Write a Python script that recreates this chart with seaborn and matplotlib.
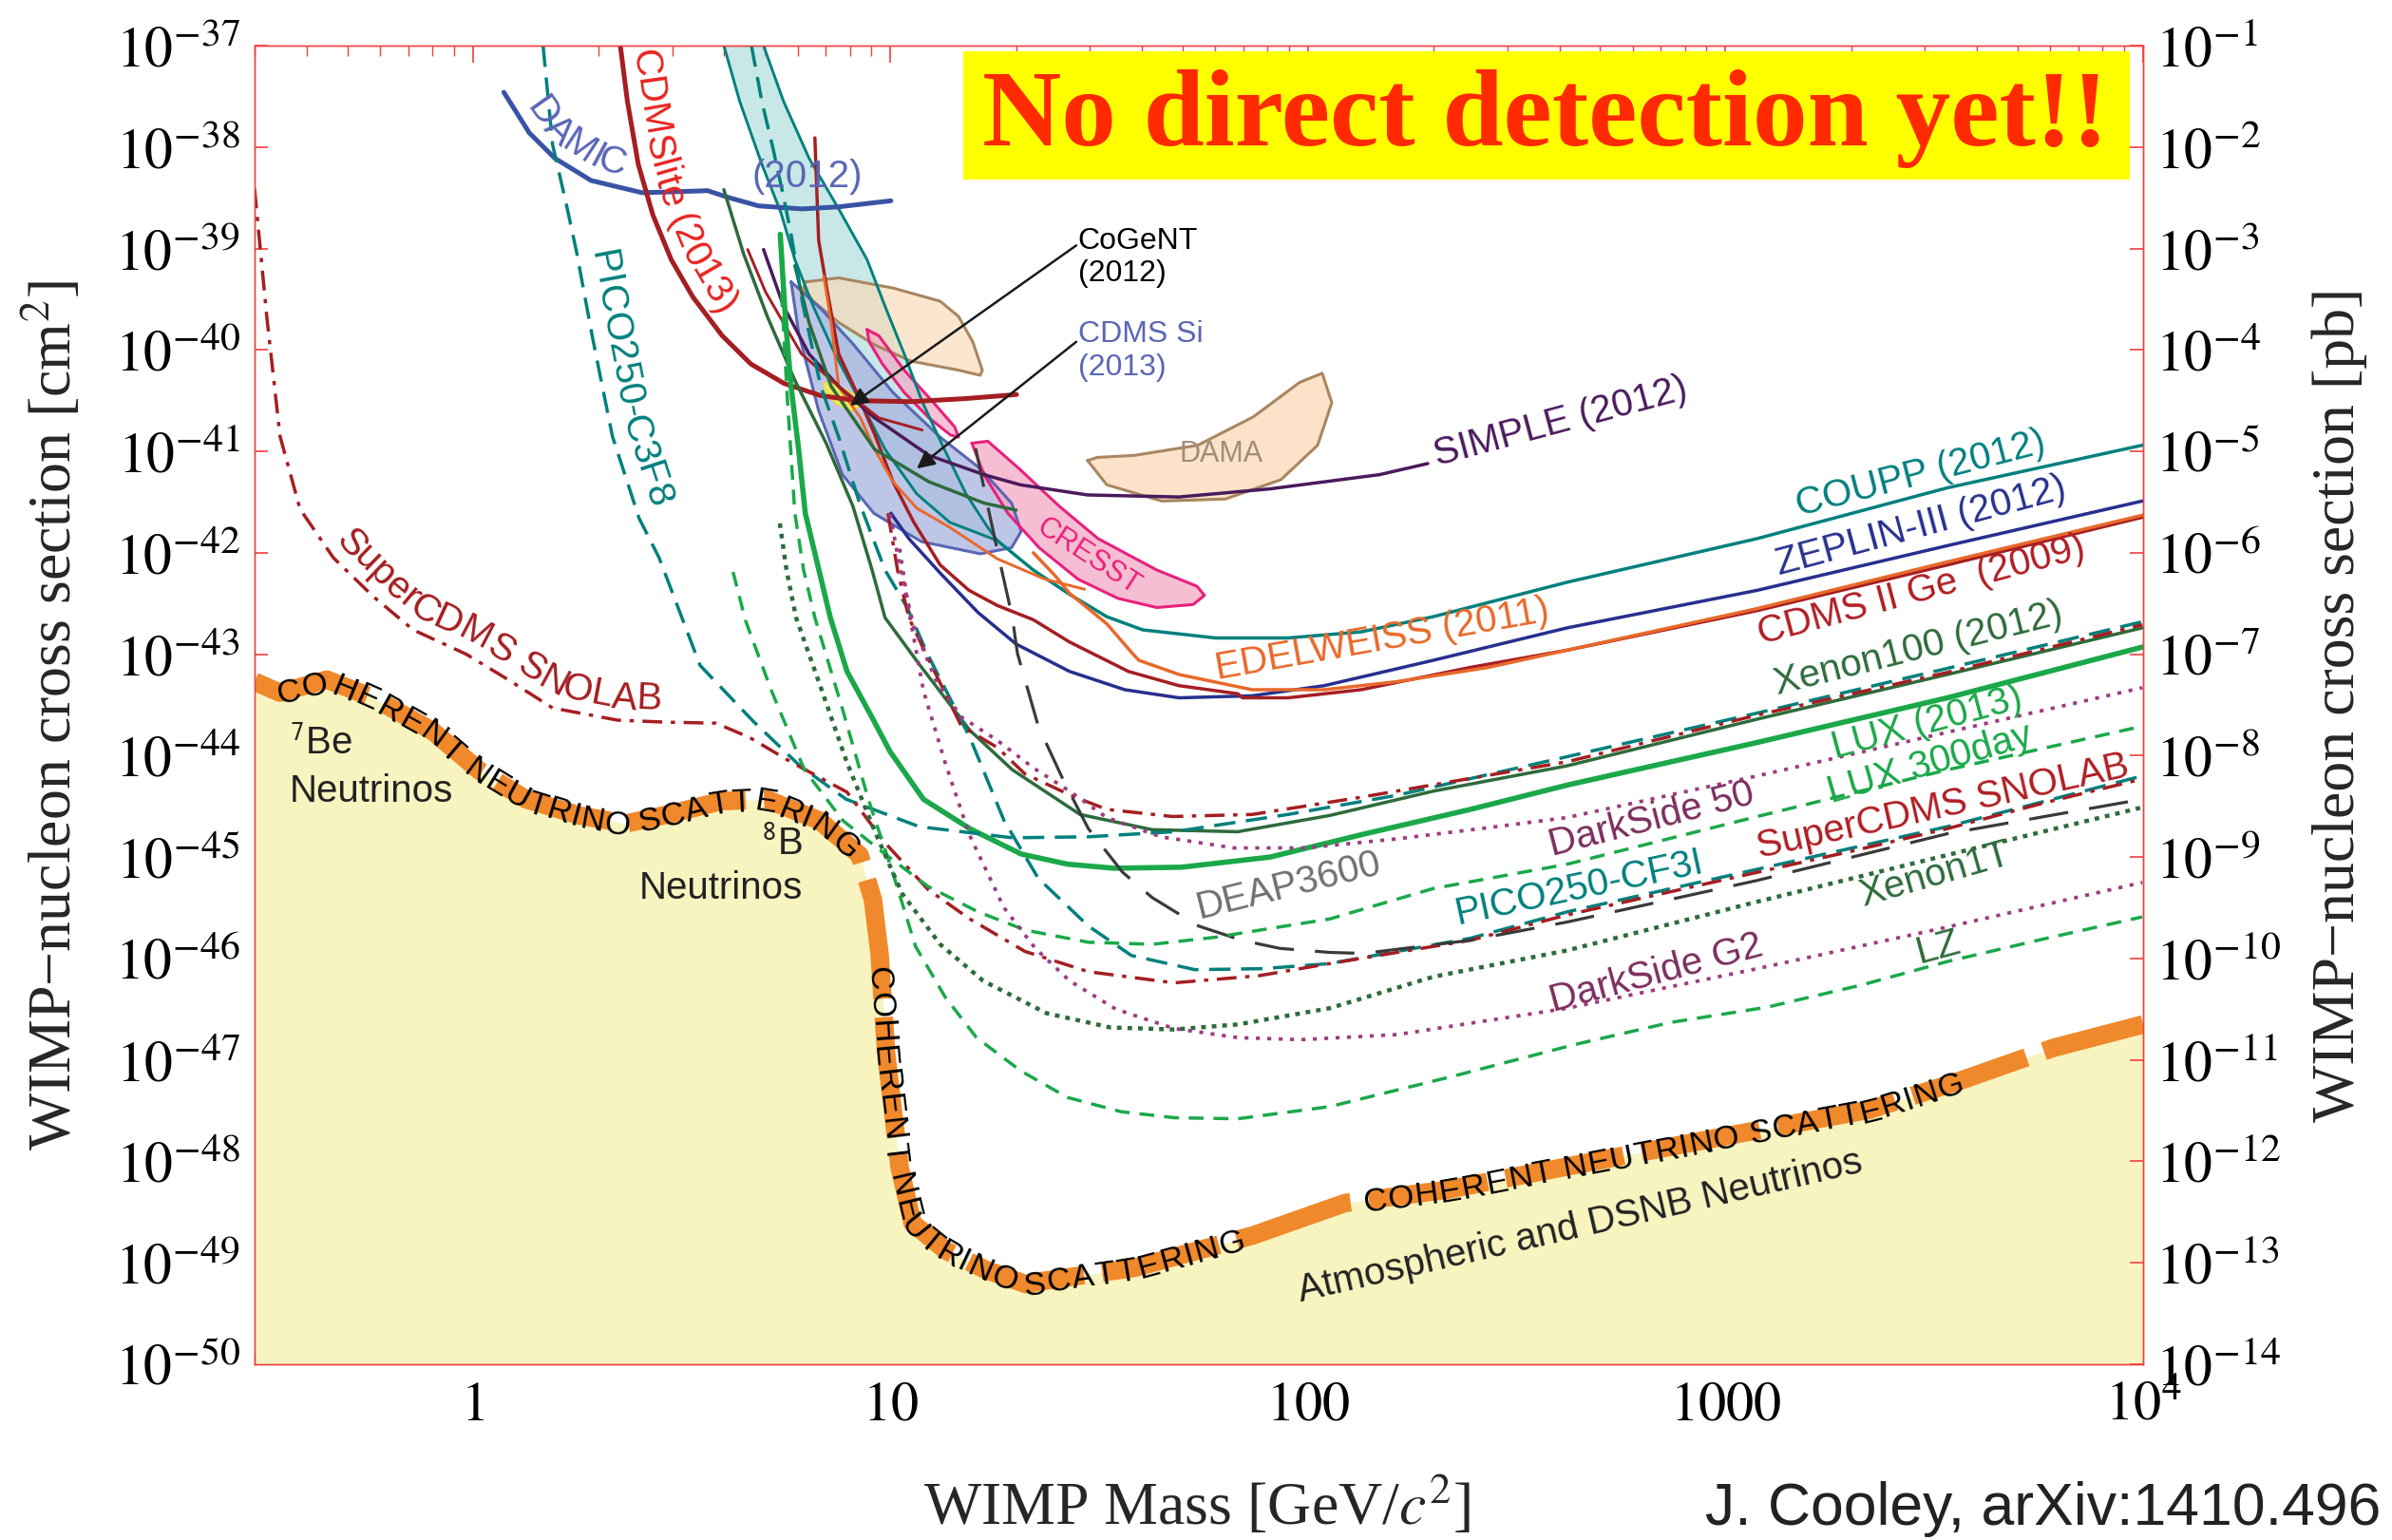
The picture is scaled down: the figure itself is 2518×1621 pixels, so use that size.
import numpy as np
import matplotlib
matplotlib.use("Agg")
import matplotlib.pyplot as plt
import seaborn as sns
from matplotlib.font_manager import FontProperties
from matplotlib.patches import Rectangle
from matplotlib.ticker import LogLocator, NullFormatter, NullLocator

sns.set_style("white")
plt.rcParams["font.family"] = ["Liberation Sans", "DejaVu Sans"]
plt.rcParams["mathtext.fontset"] = "stix"

# ---------------- data (log10 mass [GeV], log10 cross section [cm^2]) ----------------
nu_floor_lm = [-0.523, -0.462, -0.350, -0.239, -0.096, 0.016, 0.127, 0.255, 0.366, 0.478, 0.592, 0.703,
               0.830, 0.926, 0.958, 0.974, 0.990, 1.022, 1.053, 1.133, 1.229, 1.324, 1.363, 1.584, 1.868,
               2.089, 2.332, 2.685, 3.015, 3.345, 3.565, 3.786, 4.0]
nu_floor_ls = [-43.27, -43.38, -43.25, -43.43, -43.76, -44.15, -44.43, -44.59, -44.67, -44.57, -44.45, -44.43,
               -44.64, -44.98, -45.42, -45.96, -46.95, -48.06, -48.61, -48.88, -49.07, -49.21, -49.18, -49.05, -48.73,
               -48.41, -48.28, -48.00, -47.74, -47.49, -47.20, -46.88, -46.65]

damic_lm = [0.074, 0.135, 0.196, 0.283, 0.405, 0.492, 0.562, 0.614, 0.684, 0.788, 0.875, 1.001]
damic_ls = [-37.46, -37.86, -38.11, -38.33, -38.45, -38.44, -38.43, -38.50, -38.58, -38.61, -38.59, -38.53]

cdmslite_lm = [0.353, 0.370, 0.396, 0.431, 0.475, 0.527, 0.597, 0.666, 0.745, 0.832, 0.919, 1.049, 1.180, 1.302]
cdmslite_ls = [-37.00, -37.55, -38.17, -38.67, -39.11, -39.48, -39.86, -40.14, -40.33, -40.45, -40.50, -40.51, -40.48, -40.44]

pico_c3f8_lm = [0.168, 0.191, 0.223, 0.248, 0.287, 0.334, 0.398, 0.446, 0.544, 0.671, 0.783, 0.894, 1.069, 1.292,
                1.474, 1.679, 1.952, 2.214, 2.621, 3.076, 3.531, 3.998]
pico_c3f8_ls = [-37.00, -37.98, -38.55, -39.03, -39.89, -40.85, -41.66, -42.05, -43.11, -43.66, -44.10, -44.43, -44.70,
                -44.81, -44.80, -44.75, -44.58, -44.39, -44.01, -43.58, -43.14, -42.68]

xenon100_lm = [0.601, 0.648, 0.705, 0.771, 0.846, 0.910, 0.956, 0.987, 1.069, 1.190, 1.292, 1.454, 1.627, 1.832,
               2.052, 2.300, 2.621, 3.076, 3.531, 3.998]
xenon100_ls = [-38.42, -39.05, -39.67, -40.30, -40.92, -41.54, -42.17, -42.64, -43.10, -43.75, -44.14, -44.58, -44.73,
               -44.75, -44.59, -44.35, -44.10, -43.64, -43.20, -42.74]

snolab_lm = [-0.523, -0.494, -0.462, -0.414, -0.334, -0.239, -0.143, -0.016, 0.080, 0.191, 0.346, 0.462, 0.582,
             0.662, 0.765, 0.896, 0.987, 1.090, 1.190, 1.322, 1.474, 1.679, 1.882, 2.052, 2.389, 2.621, 3.076,
             3.304, 3.531, 3.759, 3.998]
snolab_ls = [-38.41, -39.66, -40.85, -41.57, -42.05, -42.43, -42.76, -43.00, -43.24, -43.53, -43.65, -43.67, -43.68,
             -43.82, -44.07, -44.36, -44.86, -45.32, -45.61, -45.93, -46.13, -46.24, -46.17, -46.05, -45.82, -45.57,
             -45.15, -44.94, -44.72, -44.47, -44.23]

snolab_b_lm = [0.994, 1.017, 1.044, 1.097, 1.170, 1.256, 1.322, 1.431, 1.518, 1.675, 1.866, 2.127, 2.621, 3.076, 3.531, 3.998]
snolab_b_ls = [-41.61, -42.17, -42.64, -43.10, -43.71, -43.92, -44.18, -44.39, -44.53, -44.60, -44.58, -44.41, -44.06,
               -43.60, -43.18, -42.71]

pico_cf3i_lm = [0.667, 0.692, 0.719, 0.744, 0.762, 0.790, 0.833, 0.876, 0.926, 0.987, 1.040, 1.090, 1.142, 1.190,
                1.272, 1.354, 1.474, 1.577, 1.729, 1.893, 2.052, 2.389, 2.621, 3.076, 3.531, 3.998]
pico_cf3i_ls = [-37.00, -37.55, -38.02, -38.49, -38.86, -39.55, -40.36, -40.86, -41.51, -42.17, -42.54, -43.01, -43.43,
                -43.82, -44.64, -45.21, -45.68, -45.97, -46.11, -46.10, -46.05, -45.80, -45.54, -45.12, -44.70, -44.20]

deap_lm = [1.204, 1.233, 1.261, 1.292, 1.304, 1.354, 1.415, 1.474, 1.556, 1.627, 1.738, 1.841, 1.932, 2.052, 2.133,
           2.389, 2.621, 3.076, 3.531, 3.998]
deap_ls = [-40.97, -41.54, -42.07, -42.64, -42.99, -43.71, -44.25, -44.72, -45.15, -45.40, -45.68, -45.82, -45.90,
           -45.94, -45.95, -45.82, -45.64, -45.23, -44.77, -44.43]

lux13_lm = [0.736, 0.749, 0.762, 0.780, 0.796, 0.856, 0.896, 0.958, 0.999, 1.079, 1.190, 1.313, 1.424, 1.536, 1.697,
            1.909, 2.127, 2.389, 2.621, 3.076, 3.531, 3.998]
lux13_ls = [-38.86, -39.73, -40.36, -40.98, -41.61, -42.64, -43.17, -43.64, -43.96, -44.43, -44.72, -44.97, -45.07,
            -45.11, -45.10, -45.00, -44.78, -44.53, -44.29, -43.87, -43.43, -42.93]

lux300_lm = [0.623, 0.653, 0.714, 0.794, 0.886, 0.987, 1.090, 1.210, 1.323, 1.474, 1.627, 1.779, 2.052, 2.300, 2.621,
             3.076, 3.531, 3.998]
lux300_ls = [-42.19, -42.67, -43.35, -44.14, -44.64, -44.97, -45.29, -45.54, -45.72, -45.84, -45.86, -45.79, -45.61,
             -45.31, -45.07, -44.60, -44.14, -43.71]

lz_lm = [0.739, 0.753, 0.771, 0.792, 0.819, 0.885, 0.947, 1.006, 1.060, 1.131, 1.206, 1.313, 1.424, 1.552, 1.681,
         1.832, 2.052, 2.348, 2.637, 2.869, 3.099, 3.327, 3.531, 3.759, 3.998]
lz_ls = [-39.43, -40.48, -41.61, -42.17, -42.64, -43.54, -44.43, -45.16, -45.88, -46.38, -46.78, -47.11, -47.37,
         -47.51, -47.57, -47.58, -47.46, -47.16, -46.85, -46.63, -46.48, -46.26, -46.03, -45.81, -45.59]

xenon1t_lm = [0.735, 0.751, 0.774, 0.835, 0.896, 0.967, 1.028, 1.119, 1.222, 1.374, 1.527, 1.679, 1.832, 2.052,
              2.300, 2.621, 3.076, 3.531, 3.998]
xenon1t_ls = [-41.71, -42.17, -42.64, -43.35, -44.07, -44.79, -45.36, -45.86, -46.22, -46.54, -46.68, -46.70, -46.65,
              -46.49, -46.18, -45.92, -45.44, -44.98, -44.51]

ds50_lm = [0.999, 1.024, 1.056, 1.108, 1.170, 1.256, 1.342, 1.429, 1.518, 1.647, 1.823, 1.995, 2.214, 2.432, 2.621,
           3.076, 3.531, 3.998]
ds50_ls = [-41.62, -42.17, -42.73, -43.25, -43.62, -43.85, -44.12, -44.35, -44.61, -44.80, -44.91, -44.91, -44.82,
           -44.71, -44.61, -44.20, -43.77, -43.33]

dsg2_lm = [1.022, 1.047, 1.079, 1.131, 1.190, 1.272, 1.347, 1.429, 1.540, 1.679, 1.832, 1.984, 2.214, 2.621, 3.076,
           3.531, 3.998]
dsg2_ls = [-41.96, -42.64, -43.36, -44.07, -44.79, -45.50, -45.90, -46.22, -46.50, -46.69, -46.78, -46.80, -46.75,
           -46.49, -46.10, -45.69, -45.25]

band_left_lm = [0.601, 0.639, 0.692, 0.737, 0.771, 0.815, 0.867, 0.928, 0.987, 1.063, 1.142, 1.256]
band_left_ls = [-37.00, -37.55, -38.17, -38.64, -39.11, -39.57, -40.04, -40.51, -40.98, -41.42, -41.70, -41.88]
band_right_lm = [0.696, 0.744, 0.805, 0.876, 0.944, 0.987, 1.033, 1.076, 1.129, 1.181, 1.233, 1.256]
band_right_ls = [-37.00, -37.55, -38.11, -38.61, -39.11, -39.57, -40.04, -40.51, -40.98, -41.42, -41.75, -41.88]

coupp_lm = [1.256, 1.342, 1.429, 1.518, 1.604, 1.779, 1.952, 2.127, 2.300, 2.621, 3.076, 3.531, 3.998]
coupp_ls = [-41.88, -42.17, -42.41, -42.63, -42.76, -42.84, -42.84, -42.78, -42.63, -42.29, -41.86, -41.36, -40.94]

zeplin_lm = [1.001, 1.044, 1.119, 1.210, 1.301, 1.429, 1.561, 1.691, 1.866, 2.039, 2.300, 2.621, 3.076, 3.531, 3.998]
zeplin_ls = [-41.61, -41.86, -42.20, -42.59, -42.90, -43.17, -43.35, -43.43, -43.41, -43.31, -43.06, -42.74, -42.37,
             -41.93, -41.49]

cdmsge_lm = [0.819, 0.828, 0.849, 0.876, 0.919, 0.962, 1.006, 1.056, 1.119, 1.188, 1.256, 1.342, 1.429, 1.570, 1.691,
             1.832, 1.843, 1.952, 2.127, 2.389, 2.621, 3.076, 3.531, 3.998]
cdmsge_ls = [-37.91, -38.92, -39.43, -40.04, -40.42, -40.83, -41.30, -41.70, -42.12, -42.37, -42.52, -42.66, -42.88,
             -43.17, -43.31, -43.39, -43.43, -43.43, -43.35, -43.13, -42.96, -42.57, -42.12, -41.65]

edelweiss_lm = [1.342, 1.393, 1.429, 1.518, 1.579, 1.595, 1.691, 1.866, 2.039, 2.214, 2.432, 2.621, 3.076, 3.531, 3.998]
edelweiss_ls = [-42.00, -42.22, -42.40, -42.70, -42.99, -43.06, -43.20, -43.35, -43.35, -43.27, -43.13, -42.96, -42.55,
                -42.09, -41.63]

orange_lm = [0.840, 0.858, 0.876, 0.928, 0.962, 1.006, 1.063, 1.142, 1.256, 1.370, 1.465]
orange_ls = [-39.27, -39.73, -40.36, -40.67, -40.98, -41.30, -41.56, -41.75, -42.06, -42.26, -42.36]

simple_lm = [0.696, 0.744, 0.805, 0.876, 0.962, 1.092, 1.224, 1.311, 1.472, 1.691, 1.909, 2.171, 2.287]
simple_ls = [-39.01, -39.57, -40.04, -40.36, -40.67, -41.04, -41.23, -41.33, -41.43, -41.45, -41.37, -41.23, -41.12]

redthin_lm = [0.658, 0.701, 0.787, 0.876, 0.972, 1.076]
redthin_ls = [-39.01, -39.43, -40.04, -40.36, -40.67, -40.79]

greenshort_lm = [0.771, 0.805, 0.858, 0.962, 1.092, 1.224, 1.301]
greenshort_ls = [-39.17, -39.73, -40.36, -40.98, -41.30, -41.51, -41.58]

cdmssi_lm = [0.762, 0.780, 0.828, 0.885, 0.960, 1.074, 1.215, 1.290, 1.313, 1.290, 1.215, 1.119, 1.006, 0.912, 0.837, 0.790]
cdmssi_ls = [-39.33, -39.83, -40.60, -41.23, -41.61, -41.89, -42.01, -41.95, -41.79, -41.51, -41.17, -40.86, -40.42,
             -39.95, -39.61, -39.43]

dama1_lm = [0.796, 0.876, 1.006, 1.119, 1.163, 1.197, 1.220, 1.215, 1.163, 1.049, 0.962, 0.876, 0.815, 0.792]
dama1_ls = [-39.33, -39.29, -39.39, -39.52, -39.67, -39.92, -40.20, -40.25, -40.20, -40.11, -39.95, -39.73, -39.52, -39.39]
dama2_lm = [1.472, 1.518, 1.650, 1.802, 1.935, 2.023, 2.057, 2.034, 1.980, 1.869, 1.736, 1.584, 1.495]
dama2_ls = [-41.09, -41.33, -41.49, -41.47, -41.28, -40.94, -40.52, -40.23, -40.32, -40.66, -40.94, -41.04, -41.06]

cresst1_lm = [0.944, 0.972, 1.033, 1.101, 1.154, 1.163, 1.144, 1.092, 1.033, 0.981, 0.949]
cresst1_ls = [-39.80, -39.86, -40.20, -40.51, -40.76, -40.86, -40.84, -40.67, -40.42, -40.14, -39.92]
cresst2_lm = [1.195, 1.233, 1.308, 1.404, 1.497, 1.638, 1.734, 1.752, 1.725, 1.638, 1.545, 1.449, 1.356, 1.281, 1.224]
cresst2_ls = [-40.92, -40.90, -41.17, -41.54, -41.86, -42.17, -42.33, -42.42, -42.51, -42.54, -42.45, -42.26, -41.95,
              -41.61, -41.23]

cogent_lm = [0.840, 0.869, 0.915, 0.928, 0.903, 0.869, 0.842]
cogent_ls = [-40.32, -40.34, -40.44, -40.56, -40.60, -40.53, -40.41]

y_left_exp = list(range(37, 51))
y_right_exp = list(range(1, 15))
x_major = [1, 10, 100, 1000, 10000]
x_major_labels = [r"$1$", r"$10$", r"$100$", r"$1000$", r"$10^4$"]

# ---------------- figure ----------------
DPI = 100
fig = plt.figure(figsize=(25.18, 16.21), dpi=DPI)
ax = fig.add_axes([0.10643, 0.11413, 0.78952, 0.85626])
ax.set_xscale("log")
ax.set_yscale("log")
XL = (10 ** -0.5229, 1e4)
YL = (1e-50, 1e-37)
ax.set_xlim(*XL)
ax.set_ylim(*YL)


def P(v):
    return 10.0 ** np.asarray(v, dtype=float)


def curve(lm, ls, color, lw, style="-", z=4, **kw):
    sns.lineplot(x=P(lm), y=P(ls), ax=ax, color=color, linewidth=lw, linestyle=style,
                 sort=False, estimator=None, zorder=z, legend=False, **kw)


def region(lm, ls, face, edge, alpha=0.7, z=2.0, lw=2.2):
    ax.fill(P(lm), P(ls), facecolor=face, edgecolor="none", alpha=alpha, zorder=z)
    curve(list(lm) + [lm[0]], list(ls) + [ls[0]], edge, lw, z=z + 0.05)


RED = "#A51E22"
TEAL = "#00807D"
DKGREEN = "#2E6B3C"
GREEN = "#1BA84A"
PURPLE = "#9C3C80"
THIN = 2.1
MID = 2.5
THICK = 3.6

# neutrino floor
ax.fill_between(P(nu_floor_lm), P(nu_floor_ls), 1e-50, color="#F8F4C0", lw=0, zorder=1)
curve(nu_floor_lm, nu_floor_ls, "#F0892B", 14, style=(0, (6.5, 1.0)), z=2.5, dash_capstyle="butt")

# regions
ax.fill(np.concatenate([P(band_left_lm), P(band_right_lm)[::-1]]),
        np.concatenate([P(band_left_ls), P(band_right_ls)[::-1]]),
        facecolor="#A9DCD9", alpha=0.65, edgecolor="none", zorder=1.8)
region(dama1_lm, dama1_ls, "#FBD9B6", "#A98661", alpha=0.65)
region(dama2_lm, dama2_ls, "#FBD9B6", "#A98661", alpha=0.75)
region(cdmssi_lm, cdmssi_ls, "#A9B3E0", "#5A66B5", alpha=0.75)
region(cresst1_lm, cresst1_ls, "#F4A9C4", "#E8207D", alpha=0.7)
region(cresst2_lm, cresst2_ls, "#F4A9C4", "#E8207D", alpha=0.75)
region(cogent_lm, cogent_ls, "#F3EC4E", "#E8D84A", alpha=0.9, lw=1.0)

# limit curves
curve(band_left_lm, band_left_ls, TEAL, THIN)
curve(band_right_lm, band_right_ls, TEAL, THIN)
curve(coupp_lm, coupp_ls, TEAL, MID)
curve(zeplin_lm, zeplin_ls, "#27308E", MID)
curve(cdmsge_lm, cdmsge_ls, RED, MID)
curve(edelweiss_lm, edelweiss_ls, "#E8692A", MID)
curve(orange_lm, orange_ls, "#E8692A", THIN)
curve(simple_lm, simple_ls, "#4A1A5C", MID)
curve(redthin_lm, redthin_ls, RED, THIN)
curve(greenshort_lm, greenshort_ls, DKGREEN, MID)
curve(damic_lm, damic_ls, "#3953A4", THICK)
curve(cdmslite_lm, cdmslite_ls, RED, THICK)
curve(xenon100_lm, xenon100_ls, DKGREEN, MID)
curve(lux13_lm, lux13_ls, GREEN, 4.0)
curve(pico_c3f8_lm, pico_c3f8_ls, TEAL, MID, style=(0, (6.5, 3.2)))
curve(pico_cf3i_lm, pico_cf3i_ls, TEAL, MID, style=(0, (6.5, 3.2)))
curve(snolab_lm, snolab_ls, RED, MID, style=(0, (6, 2.6, 1.3, 2.6)))
curve(snolab_b_lm, snolab_b_ls, RED, MID, style=(0, (6, 2.6, 1.3, 2.6)))
curve(deap_lm, deap_ls, "#3A3A3A", 2.3, style=(0, (13, 7)))
curve(lux300_lm, lux300_ls, GREEN, MID, style=(0, (4.5, 3.0)))
curve(lz_lm, lz_ls, GREEN, MID, style=(0, (4.5, 3.0)))
curve(xenon1t_lm, xenon1t_ls, DKGREEN, 3.2, style=(0, (1.1, 1.4)))
curve(ds50_lm, ds50_ls, PURPLE, 2.7, style=(0, (1.1, 2.1)))
curve(dsg2_lm, dsg2_ls, PURPLE, 2.7, style=(0, (1.1, 2.1)))

ax.set_xlim(*XL)
ax.set_ylim(*YL)
ax.set_xlabel("")
ax.set_ylabel("")


def text_along(lm, ls, text, start, end=None, offset=0.0, size=29, color="black", z=6, spacing=1.0):
    em = size * DPI / 72.0
    pts = ax.transData.transform(np.column_stack([P(lm), P(ls)]))
    seg = np.hypot(*np.diff(pts, axis=0).T)
    s = np.concatenate([[0.0], np.cumsum(seg)])
    fs = np.linspace(0, s[-1], max(int(s[-1] / 1.5), 10))
    px = np.interp(fs, s, pts[:, 0])
    py = np.interp(fs, s, pts[:, 1])
    dx = np.gradient(px)
    dy = np.gradient(py)
    ker = np.ones(15) / 15.0
    dxs = np.convolve(dx, ker, mode="same")
    dys = np.convolve(dy, ker, mode="same")
    nn = np.hypot(dxs, dys)
    nn[nn == 0] = 1
    base = offset - 0.36 * em
    ox = px - dys / nn * base
    oy = py + dxs / nn * base
    so = np.concatenate([[0.0], np.cumsum(np.hypot(np.diff(ox), np.diff(oy)))])

    def proj(p):
        d = ax.transData.transform((10 ** p[0], 10 ** p[1]))
        return so[np.argmin((px - d[0]) ** 2 + (py - d[1]) ** 2)]

    fp = FontProperties(family=plt.rcParams["font.family"], size=size)
    rend = fig.canvas.get_renderer()
    wHH = rend.get_text_width_height_descent("HH", fp, ismath=False)[0]
    adv = np.array([rend.get_text_width_height_descent("H" + c + "H", fp, ismath=False)[0] - wHH for c in text])
    s0 = proj(start)
    scale = spacing if end is None else (proj(end) - s0) / adv.sum()
    inv = ax.transData.inverted()
    cur = s0
    for c, a in zip(text, adv):
        mid = cur + scale * a / 2
        cur += scale * a
        if c == " ":
            continue
        h = max(scale * a * 0.6, 8)
        x, y = np.interp(mid, so, ox), np.interp(mid, so, oy)
        x1, y1 = np.interp(mid - h, so, ox), np.interp(mid - h, so, oy)
        x2, y2 = np.interp(mid + h, so, ox), np.interp(mid + h, so, oy)
        ang = np.degrees(np.arctan2(y2 - y1, x2 - x1))
        xd, yd = inv.transform((x, y))
        ax.text(xd, yd, c, rotation=ang, rotation_mode="anchor", ha="center", va="baseline",
                fontsize=size, color=color, zorder=z)


# neutrino-floor band text
text_along(nu_floor_lm, nu_floor_ls, "COHERENT NEUTRINO SCATTERING", (-0.462, -43.38), (0.926, -44.98), size=25, z=3)
text_along(nu_floor_lm, nu_floor_ls, "COHERENT NEUTRINO SCATTERING", (0.976, -46.07), (1.848, -48.73), size=25, z=3)
text_along(nu_floor_lm, nu_floor_ls, "COHERENT NEUTRINO SCATTERING", (2.133, -48.42), (3.565, -47.20), size=25, z=3)

# curved labels
LFS = 29
text_along(damic_lm, damic_ls, "DAMIC", (0.107, -37.65), offset=27, size=LFS, color="#5A66B5")
text_along(cdmslite_lm, cdmslite_ls, "CDMSlite (2013)", (0.355, -37.07), offset=27, size=LFS, color="#E8231F")
text_along(pico_c3f8_lm, pico_c3f8_ls, "PICO250-C3F8", (0.25, -39.07), offset=29, size=LFS, color=TEAL)
text_along(snolab_lm, snolab_ls, "SuperCDMS SNOLAB", (-0.36, -41.95), offset=27, size=LFS, color=RED)


def lab(lm, ls, s, color, rot=0.0, size=LFS, **kw):
    ax.text(10 ** lm, 10 ** ls, s, color=color, rotation=rot, rotation_mode="anchor",
            ha=kw.pop("ha", "center"), va=kw.pop("va", "center"), fontsize=size, zorder=6, **kw)


lab(0.801, -38.29, "(2012)", "#5A66B5")
lab(3.467, -41.22, "COUPP (2012)", TEAL, 14.5)
lab(3.467, -41.74, "ZEPLIN-III (2012)", "#27308E", 15)
lab(3.468, -42.37, "CDMS II Ge  (2009)", "#B01E23", 15)
lab(3.463, -42.95, "Xenon100 (2012)", DKGREEN, 14)
lab(3.482, -43.68, "LUX (2013)", GREEN, 15)
lab(3.490, -44.08, "LUX 300day", GREEN, 16)
lab(3.520, -44.50, "SuperCDMS SNOLAB", "#B01E23", 12.5)
lab(3.501, -45.18, "Xenon1T", DKGREEN, 16)
lab(3.509, -45.89, "LZ", DKGREEN, 15)
lab(2.823, -44.63, "DarkSide 50", "#7B2E5E", 14.5)
lab(2.835, -46.15, "DarkSide G2", "#7B2E5E", 15)
lab(2.651, -45.305, "PICO250-CF3I", TEAL, 12)
lab(1.955, -45.28, "DEAP3600", "#707070", 14)
lab(2.179, -42.86, "EDELWEISS (2011)", "#E8692A", 10)
lab(2.605, -40.71, "SIMPLE (2012)", "#4A1A5C", 15)
lab(1.792, -41.03, "DAMA", "#A08C78", 0, size=22)
lab(1.474, -42.04, "CRESST", "#E8207D", -33, size=22)
lab(1.449, -39.09, "CoGeNT\n(2012)", "black", 0, size=23, ha="left", linespacing=1.2)
lab(1.449, -40.01, "CDMS Si\n(2013)", "#5A66B5", 0, size=23, ha="left", linespacing=1.2)
lab(-0.439, -43.88, r"$^{\mathsf{7}}$Be", "#222222", 0, size=29, ha="left")
lab(-0.439, -44.35, "Neutrinos", "#222222", 0, size=29, ha="left")
lab(0.790, -44.87, r"$^{\mathsf{8}}$B", "#222222", 0, size=29, ha="right")
lab(0.790, -45.31, "Neutrinos", "#222222", 0, size=29, ha="right")
lab(2.651, -48.64, "Atmospheric and DSNB Neutrinos", "#222222", 13, size=29)

arrow_kw = dict(arrowstyle="-|>", color="#1a1a1a", lw=1.8, mutation_scale=28, shrinkA=0, shrinkB=0)
ax.annotate("", xy=(10 ** 0.903, 10 ** -40.55), xytext=(10 ** 1.445, 10 ** -38.97), arrowprops=arrow_kw, zorder=7)
ax.annotate("", xy=(10 ** 1.063, 10 ** -41.17), xytext=(10 ** 1.445, 10 ** -39.92), arrowprops=arrow_kw, zorder=7)

# headline box
ax.add_patch(Rectangle((0.3755, 0.8986), 0.6175, 0.0974, transform=ax.transAxes,
                       facecolor="#FFFF00", edgecolor="none", zorder=8))
ax.text(0.6835, 0.9244, "No direct detection yet!!", transform=ax.transAxes, ha="center", va="baseline",
        fontsize=83, fontweight="bold", family=["Liberation Serif", "DejaVu Serif"], color="#FF2A00", zorder=9)

# axes styling
SP = "#F04040"
for sp in ax.spines.values():
    sp.set_color(SP)
    sp.set_linewidth(1.0)
ax.set_xticks(x_major)
ax.set_xticklabels(x_major_labels)
ax.xaxis.set_minor_locator(LogLocator(base=10, subs=np.arange(2, 10)))
ax.xaxis.set_minor_formatter(NullFormatter())
ax.tick_params(axis="x", which="major", direction="in", top=True, bottom=True, length=13, width=1.2,
               color=SP, labelsize=42, pad=12, labelcolor="black")
ax.tick_params(axis="x", which="minor", direction="in", top=True, bottom=True, length=8, width=1.0, color=SP)
ax.set_yticks([10.0 ** -k for k in y_left_exp])
ax.set_yticklabels([r"$10^{-%d}$" % k for k in y_left_exp])
ax.yaxis.set_minor_locator(NullLocator())
ax.tick_params(axis="y", which="major", direction="in", left=True, right=False, length=10, width=1.2,
               color=SP, labelsize=43, pad=11, labelcolor="black")

ax2 = ax.twinx()
ax2.set_yscale("log")
ax2.set_ylim(1e-14, 1e-1)
ax2.set_yticks([10.0 ** -k for k in y_right_exp])
ax2.set_yticklabels([r"$10^{-%d}$" % k for k in y_right_exp])
ax2.yaxis.set_minor_locator(NullLocator())
ax2.tick_params(axis="y", which="major", direction="in", right=True, left=False, length=10, width=1.2,
                color=SP, labelsize=43, pad=9, labelcolor="black")
for sp in ax2.spines.values():
    sp.set_color(SP)
    sp.set_linewidth(1.0)
ax2.set_xlim(*XL)

serif = ["Liberation Serif", "DejaVu Serif"]
fig.text(0.0222, 0.5355, "WIMP\u2212nucleon cross section [cm$^2$]", rotation=90, ha="center", va="center",
         fontsize=46, family=serif)
fig.text(0.978, 0.5423, "WIMP\u2212nucleon cross section [pb]", rotation=90, ha="center", va="center",
         fontsize=46, family=serif)
fig.text(0.5004, 1 - 1605 / 1621, "WIMP Mass [GeV/$c^2$]", ha="center", va="baseline", fontsize=46, family=serif)
fig.text(0.7129, 1 - 1605 / 1621, "J. Cooley, arXiv:1410.496", ha="left", va="baseline", fontsize=45,
         color="#222222")

fig.savefig("out.png", dpi=DPI, facecolor="white")
